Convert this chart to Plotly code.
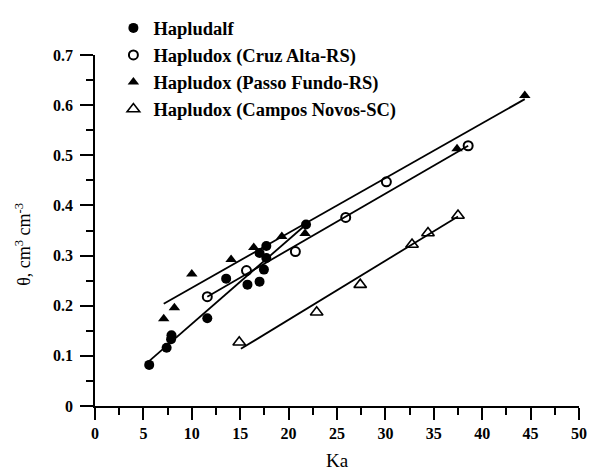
import plotly.graph_objects as go

# Hapludalf (filled circles)
hd_x = [5.6, 7.4, 7.86, 7.9, 11.6, 13.55, 15.75, 17.0, 17.45, 17.0, 17.7, 17.7, 21.8]
hd_y = [0.082, 0.116, 0.133, 0.141, 0.175, 0.254, 0.242, 0.248, 0.272, 0.305, 0.319, 0.295, 0.362]
# Hapludox Cruz Alta (open circles)
ca_x = [11.6, 15.65, 20.7, 25.9, 30.1, 38.55]
ca_y = [0.218, 0.270, 0.308, 0.376, 0.447, 0.519]
# Hapludox Passo Fundo (filled triangles)
pf_x = [7.1, 8.2, 10.0, 14.06, 16.4, 19.3, 21.7, 37.4, 44.4]
pf_y = [0.174, 0.196, 0.263, 0.292, 0.316, 0.338, 0.344, 0.513, 0.619]
# Hapludox Campos Novos (open triangles)
cn_x = [14.9, 22.9, 27.4, 32.75, 34.4, 37.5]
cn_y = [0.127, 0.187, 0.242, 0.322, 0.345, 0.380]

# fitted line end points
hd_fit_x = [5.5, 21.8]
hd_fit_y = [0.088, 0.362]
ca_fit_x = [11.6, 38.55]
ca_fit_y = [0.218, 0.519]
pf_fit_x = [7.1, 44.4]
pf_fit_y = [0.204, 0.612]
cn_fit_x = [15.07, 37.5]
cn_fit_y = [0.114, 0.378]

names = ["Hapludalf", "Hapludox (Cruz Alta-RS)", "Hapludox (Passo Fundo-RS)",
         "Hapludox (Campos Novos-SC)"]
y_ticks = [0, 0.1, 0.2, 0.3, 0.4, 0.5, 0.6, 0.7]
y_tick_labels = ["0", "0.1", "0.2", "0.3", "0.4", "0.5", "0.6", "0.7"]

fig = go.Figure()
line_style = dict(color="black", width=1.8)
for fx, fy in [(hd_fit_x, hd_fit_y), (ca_fit_x, ca_fit_y), (pf_fit_x, pf_fit_y), (cn_fit_x, cn_fit_y)]:
    fig.add_trace(go.Scatter(x=fx, y=fy, mode="lines", line=line_style,
                             showlegend=False, hoverinfo="skip"))

marker_specs = [
    (hd_x, hd_y, dict(symbol="circle", size=10, color="black")),
    (ca_x, ca_y, dict(symbol="circle-open", size=9, color="black", line=dict(width=2, color="black"))),
    (pf_x, pf_y, dict(symbol="triangle-up", size=10, color="black")),
    (cn_x, cn_y, dict(symbol="triangle-up-open", size=11, color="black", line=dict(width=1.6, color="black"))),
]
for i, (mx, my, mk) in enumerate(marker_specs):
    fig.add_trace(go.Scatter(x=mx, y=my, mode="markers", marker=mk, name=names[i],
                             legendgroup=f"g{i}"))

axis_common = dict(showline=True, linecolor="black", linewidth=1.5, ticks="outside",
                   tickcolor="black", tickwidth=1.5, showgrid=False, zeroline=False,
                   tickfont=dict(family="Liberation Serif", size=16, color="black", weight="bold"))

fig.update_layout(
    width=596, height=472,
    margin=dict(l=95, r=9, t=43, b=66),
    paper_bgcolor="white", plot_bgcolor="white",
    xaxis=dict(range=[0, 50], dtick=5, ticklen=12,
               minor=dict(dtick=2.5, ticklen=7, ticks="outside", tickcolor="black", tickwidth=1.5),
               **axis_common),
    yaxis=dict(range=[0, 0.7], tickvals=y_ticks, ticktext=y_tick_labels, ticklen=13,
               ticklabelstandoff=4,
               minor=dict(dtick=0.05, ticklen=7, ticks="outside", tickcolor="black", tickwidth=1.5),
               **axis_common),
    legend=dict(x=0.038, y=1.13, xanchor="left", yanchor="top", bgcolor="rgba(0,0,0,0)",
                font=dict(family="Liberation Serif", size=18.5, color="black", weight="bold"),
                tracegroupgap=0, itemwidth=30),
    annotations=[
        dict(text="Ka", xref="paper", yref="paper", x=0.5, y=-0.155, showarrow=False,
             yanchor="middle", font=dict(family="Liberation Serif", size=19, color="black")),
        dict(text="θ, cm<sup>3</sup> cm<sup>-3</sup>", xref="paper", yref="paper",
             x=-0.176, y=0.46, textangle=-90, showarrow=False,
             font=dict(family="Liberation Serif", size=18, color="black")),
    ],
)

fig.write_html("out.html", config={"displayModeBar": False},
               post_script="document.body.style.margin='0';document.body.style.padding='0';")
